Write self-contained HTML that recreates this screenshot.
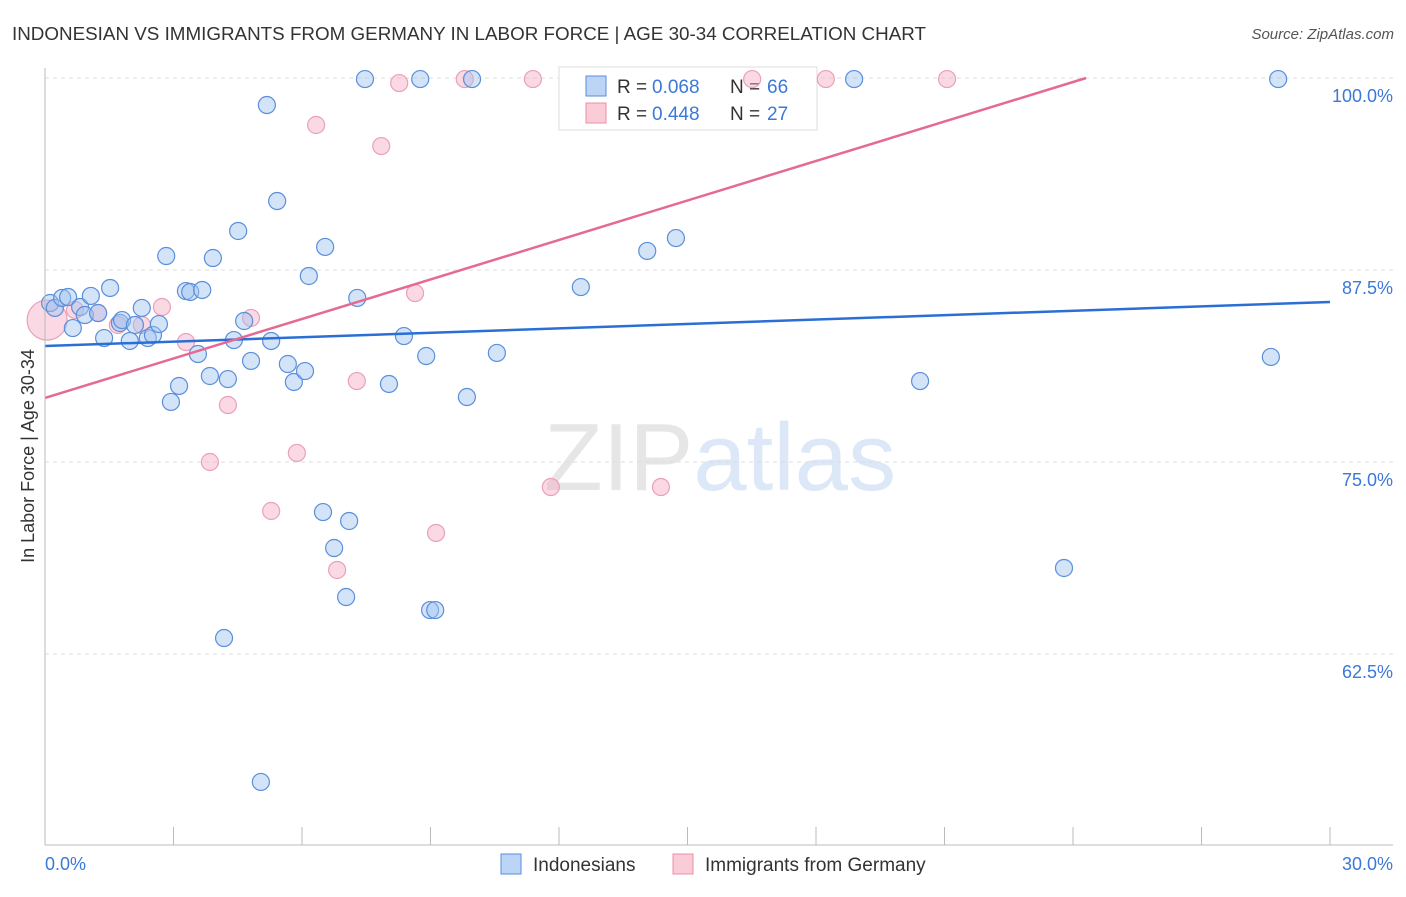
<!DOCTYPE html>
<html><head><meta charset="utf-8"><style>
body{margin:0;background:#fff;font-family:"Liberation Sans",sans-serif}
svg text{font-family:"Liberation Sans",sans-serif}
</style></head><body>
<svg width="1406" height="892" xmlns="http://www.w3.org/2000/svg" id="svg">
<text x="12" y="40" font-size="18" fill="#333" textLength="914" lengthAdjust="spacingAndGlyphs">INDONESIAN VS IMMIGRANTS FROM GERMANY IN LABOR FORCE | AGE 30-34 CORRELATION CHART</text>
<text x="1394" y="39" font-size="15" fill="#555" text-anchor="end" font-style="italic">Source: ZipAtlas.com</text>
<text x="720" y="490" font-size="96" text-anchor="middle" fill="#e6e6e6" font-family="Liberation Serif">ZIP<tspan fill="#dce8f7" font-family="Liberation Sans">atlas</tspan></text>
<text transform="translate(34,456) rotate(-90)" font-size="18" fill="#333" text-anchor="middle">In Labor Force | Age 30-34</text>
<g id="grid"></g>
<g>
<rect x="559" y="67" width="258" height="63" fill="#fff" stroke="#ddd"/>
<rect x="586" y="76" width="20" height="20" fill="#bcd4f5" stroke="#5a8fdb"/>
<rect x="586" y="103" width="20" height="20" fill="#f9ccd8" stroke="#e890a8"/>
<text x="617" y="93" font-size="19" fill="#333">R =</text><text x="652" y="93" font-size="19" fill="#3b78d8">0.068</text>
<text x="730" y="93" font-size="19" fill="#333">N =</text><text x="767" y="93" font-size="19" fill="#3b78d8">66</text>
<text x="617" y="120" font-size="19" fill="#333">R =</text><text x="652" y="120" font-size="19" fill="#3b78d8">0.448</text>
<text x="730" y="120" font-size="19" fill="#333">N =</text><text x="767" y="120" font-size="19" fill="#3b78d8">27</text>
</g>
<g id="pts"></g><g id="lines"></g>
<line x1="45" y1="68" x2="45" y2="845" stroke="#bbb"/>
<line x1="45" y1="845" x2="1393" y2="845" stroke="#bbb"/>
<text x="45" y="870" font-size="18" fill="#3b78d8">0.0%</text>
<text x="1393" y="870" font-size="18" fill="#3b78d8" text-anchor="end">30.0%</text>
<g>
<rect x="501" y="854" width="20" height="20" fill="#bcd4f5" stroke="#5a8fdb"/>
<text x="533" y="871" font-size="19" fill="#333">Indonesians</text>
<rect x="673" y="854" width="20" height="20" fill="#f9ccd8" stroke="#e890a8"/>
<text x="705" y="871" font-size="19" fill="#333">Immigrants from Germany</text>
</g>
</svg>
<script>
const yTicks=[100,87.5,75,62.5];
const yTickLabels=["100.0%","87.5%","75.0%","62.5%"];
const xTicks=[3,6,9,12,15,18,21,24,27,30];
const blueX=[0.12,0.23,0.40,0.54,0.65,0.82,0.93,1.07,1.24,1.38,1.52,1.75,1.80,1.98,2.10,2.26,2.40,2.52,2.66,2.83,2.94,3.13,3.29,3.39,3.57,3.67,3.85,3.92,4.27,4.18,4.41,4.51,4.65,4.81,5.04,5.18,5.28,5.42,5.67,5.81,6.07,6.16,6.49,6.54,6.75,7.03,7.10,7.29,7.47,8.03,8.38,8.76,8.90,8.99,9.11,9.85,9.97,10.55,12.51,14.06,14.73,18.89,20.43,23.79,28.62,28.79];
const blueY=[85.35,85.03,85.68,85.74,83.72,85.09,84.57,85.81,84.70,83.07,86.33,84.05,84.24,82.88,83.92,85.03,83.07,83.27,83.98,88.41,78.91,79.95,86.13,86.07,82.03,86.20,80.60,88.28,80.40,63.54,82.94,90.04,84.18,81.58,54.17,98.24,82.88,91.99,81.38,80.21,80.92,87.11,71.74,89.00,69.40,66.21,71.16,85.68,99.93,80.08,83.20,99.93,81.90,65.36,65.36,79.23,99.93,82.10,86.39,88.74,89.58,99.93,80.27,68.10,81.84,99.93];
const pinkX=[0.05,0.70,1.24,1.70,2.26,2.73,3.29,3.85,4.27,4.81,5.28,5.88,6.33,6.82,7.28,7.85,8.27,8.64,9.13,9.80,11.39,11.81,14.38,16.51,18.23,21.06];
const pinkY=[84.24,84.90,84.70,83.92,83.92,85.09,82.81,75.0,78.71,84.38,71.81,75.59,96.94,67.97,80.27,95.57,99.67,86.0,70.38,99.93,99.93,73.37,73.37,99.93,99.93,99.93];
const blueTrend=[82.55,85.42];
const pinkTrend=[79.17,0.857];
const X=v=>45+v*42.833, Y=v=>78+(100-v)*15.36;
const NS="http://www.w3.org/2000/svg";
function mk(t,a,p){const e=document.createElementNS(NS,t);for(const k in a)e.setAttribute(k,a[k]);p.appendChild(e);return e;}
const grid=document.getElementById('grid');
yTicks.forEach((t,i)=>{
 const l=mk('line',{x1:45,x2:1393,y1:Y(t),y2:Y(t),stroke:'#ddd','stroke-dasharray':'4,4'},grid);
 
 
 const tx=mk('text',{x:1393,y:Y(t)+24,'font-size':18,fill:'#3b78d8','text-anchor':'end'},grid);
 tx.textContent=yTickLabels[i];
 
 
});
xTicks.forEach(t=>{
 const l=mk('line',{x1:X(t),x2:X(t),y1:827,y2:845,stroke:'#bbb'},grid);
 
 
});
const pts=document.getElementById('pts');
pinkX.forEach((v,i)=>{
 const c=mk('circle',{cx:X(v),cy:Y(pinkY[i]),r:i==0?20:8.5,fill:'rgba(245,170,195,0.45)',stroke:'#eaa0b8','stroke-width':1.2},pts);
 
 
});
blueX.forEach((v,i)=>{
 const c=mk('circle',{cx:X(v),cy:Y(blueY[i]),r:8.5,fill:'rgba(160,195,240,0.45)',stroke:'#5a8fdb','stroke-width':1.2},pts);
 
 
});
const lines=document.getElementById('lines');
const bl=mk('line',{x1:X(0),y1:Y(blueTrend[0]),x2:X(30),y2:Y(blueTrend[1]),stroke:'#2a6fd6','stroke-width':2.5},lines);


const xe=(100-pinkTrend[0])/pinkTrend[1];
const pl=mk('line',{x1:X(0),y1:Y(pinkTrend[0]),x2:X(xe),y2:Y(100),stroke:'#e56a93','stroke-width':2.5},lines);


</script>
</body></html>
